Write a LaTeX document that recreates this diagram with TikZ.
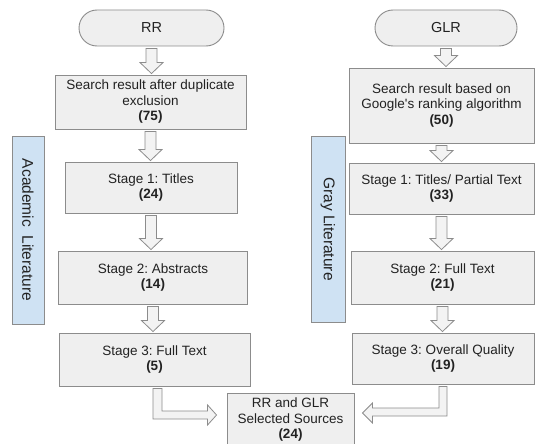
\documentclass[tikz,border=0pt]{standalone}
\usepackage{fontspec}
\setmainfont{Liberation Sans}
\usetikzlibrary{calc}
\frenchspacing
\definecolor{boxfill}{HTML}{EFEFEF}
\definecolor{boxline}{HTML}{8C8C8C}
\definecolor{sidefill}{HTML}{CFE2F3}
\definecolor{arrfill}{HTML}{F3F3F3}
\definecolor{txt}{HTML}{222222}
\tikzset{
  box/.style={draw=boxline, fill=boxfill, line width=0.9pt, align=center, inner sep=0pt,
    text=txt, font=\fontsize{13.5}{15.5}\selectfont},
  term/.style={box, rounded corners=18pt, font=\fontsize{14.5}{16}\selectfont},
  side/.style={draw=boxline, fill=sidefill, line width=0.9pt, inner sep=0pt},
  sidetext/.style={rotate=-90, text=txt, font=\fontsize{15.5}{17}\selectfont, inner sep=0pt},
  barrow/.style={draw=boxline, fill=arrfill, line width=0.8pt, line join=miter}
}
\newcommand\dnarr[2]{%
  \draw[barrow] let \p1=(#1.south), \p2=(#2.north) in
    (\x1-5.5pt,\y1-2pt) -- (\x1+5.5pt,\y1-2pt) -- (\x1+5.5pt,\y2+12pt) --
    (\x1+11.5pt,\y2+12pt) -- (\x1,\y2+1pt) -- (\x1-11.5pt,\y2+12pt) --
    (\x1-5.5pt,\y2+12pt) -- cycle;}
\begin{document}
\begin{tikzpicture}[x=1pt,y=-1pt]
\clip (0,0) rectangle (535,444);
\fill[white] (0,0) rectangle (535,444);
% side labels
\node[side, minimum width=32pt, minimum height=188pt] (SA) at (28,230) {};
\node[sidetext] (SAt) at (SA.center) {Academic\ \ Literature};
\node[side, minimum width=34pt, minimum height=186pt] (SG) at (328,229) {};
\node[sidetext] (SGt) at (SG.center) {Gray Literature};
% left column
\node[term, minimum width=145pt, minimum height=36pt] (RR) at (151.5,28) {RR};
\node[box, minimum width=191pt, minimum height=54pt] (L1) at (150.5,102) {Search result after duplicate\\exclusion\\\textbf{(75)}};
\node[box, minimum width=172pt, minimum height=51pt] (L2) at (151,187.5) {Stage 1: Titles\\\textbf{(24)}};
\node[box, minimum width=189pt, minimum height=53pt] (L3) at (153,277.5) {Stage 2: Abstracts\\\textbf{(14)}};
\node[box, minimum width=191pt, minimum height=53pt] (L4) at (154.5,359.5) {Stage 3: Full Text\\\textbf{(5)}};
% right column
\node[term, minimum width=142pt, minimum height=36pt] (GLR) at (446,28) {GLR};
\node[box, minimum width=185pt, minimum height=75pt] (R1) at (441.5,105.5) {Search result based on\\Google\textquotesingle s ranking algorithm\\\textbf{(50)}};
\node[box, minimum width=185pt, minimum height=51pt] (R2) at (441.5,188.5) {Stage 1: Titles/ Partial Text\\\textbf{(33)}};
\node[box, minimum width=183pt, minimum height=53pt] (R3) at (442.5,277.5) {Stage 2: Full Text\\\textbf{(21)}};
\node[box, minimum width=182pt, minimum height=51pt] (R4) at (443,358.5) {Stage 3: Overall Quality\\\textbf{(19)}};
% center
\node[box, minimum width=127pt, minimum height=54pt] (C) at (290.5,420) {RR and GLR\\Selected Sources\\\textbf{(24)}};
% down arrows
\dnarr{RR}{L1}
\dnarr{L1}{L2}
\dnarr{L2}{L3}
\dnarr{L3}{L4}
\dnarr{GLR}{R1}
\dnarr{R1}{R2}
\dnarr{R2}{R3}
\dnarr{R3}{R4}
% bent arrows
\draw[barrow] let \p1=(L4.south), \p2=(C.west) in
  (\x1-1.5pt,\y1-2pt) -- (\x1+7.5pt,\y1-2pt) -- (\x1+7.5pt,\y2+9pt) --
  (\x2-19pt,\y2+9pt) -- (\x2-19pt,\y2+15pt) -- (\x2-10pt,\y2+5pt) --
  (\x2-19pt,\y2-5pt) -- (\x2-19pt,\y2+1pt) -- (\x1-1.5pt,\y2+1pt) -- cycle;
\draw[barrow] let \p1=(R4.south), \p2=(C.east) in
  (\x1+4pt,\y1-2pt) -- (\x1+4pt,\y2+4pt) -- (\x2+18pt,\y2+4pt) --
  (\x2+18pt,\y2-3pt) -- (\x2+8pt,\y2+7pt) -- (\x2+18pt,\y2+17pt) --
  (\x2+18pt,\y2+12pt) -- (\x1-4pt,\y2+12pt) -- (\x1-4pt,\y1-2pt) -- cycle;
\end{tikzpicture}
\end{document}
